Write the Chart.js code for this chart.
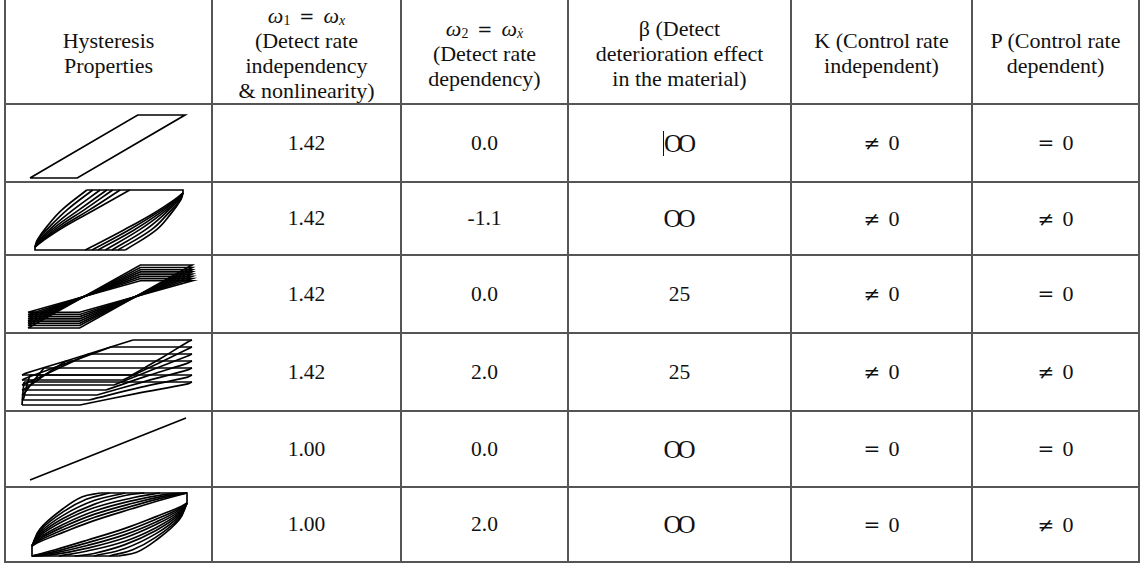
<!DOCTYPE html>
<html>
<head>
<meta charset="utf-8">
<script src="https://cdn.jsdelivr.net/npm/chart.js@4.4.1/dist/chart.umd.min.js"></script>
<style>
  html, body { margin: 0; padding: 0; background: #fff; }
  #sheet { position: relative; width: 1140px; height: 566px; overflow: hidden;
           font-family: "Liberation Serif", "Times New Roman", serif; color: #111; }
  .cell { position: absolute; display: flex; flex-direction: column; align-items: center;
          justify-content: center; text-align: center; box-sizing: border-box; white-space: nowrap; }
  .head { font-size: 22px; line-height: 25px; padding-top: 2px; }
  .head > div { height: 25px; }
  .body { font-size: 21.5px; }
  .rule { position: absolute; background: #555; }
  .math { font-size: 22px; }
  .math i { font-style: italic; }
  .math sub { font-size: 63%; position: relative; top: 2px; vertical-align: baseline; line-height: 0; }
  .op { margin: 0 9px; font-family: "DejaVu Serif", serif; font-size: 18px; }
  .inf { display: inline-block; line-height: 25px; letter-spacing: -4px; font-size: 25px; padding-right: 4px; }
  .caret { border-left: 1.5px solid #111; }
  .rel { font-size: 22px; }
  .rel b { font-weight: normal; font-family: "DejaVu Serif", serif; font-size: 20px; margin-right: 8px; }
  canvas { position: absolute; }
</style>
</head>
<body>
<div id="sheet"></div>
<script>
// ---- table text ----
const headerLines = [
  ["Hysteresis", "Properties"],
  ['<span class="math"><i>ω</i><sub>1</sub><span class="op">=</span><i>ω<sub>x</sub></i></span>', "(Detect rate", "independency", "&amp; nonlinearity)"],
  ['<span class="math"><i>ω</i><sub>2</sub><span class="op">=</span><i>ω<sub>x&#775;</sub></i></span>', "(Detect rate", "dependency)"],
  ["β (Detect", "deterioration effect", "in the material)"],
  ["K (Control rate", "independent)"],
  ["P (Control rate", "dependent)"]
];
const omega1Values = ["1.42", "1.42", "1.42", "1.42", "1.00", "1.00"];
const omega2Values = ["0.0", "-1.1", "0.0", "2.0", "0.0", "2.0"];
const betaValues   = ["∞", "∞", "25", "25", "∞", "∞"];
const kValues      = ["≠ 0", "≠ 0", "≠ 0", "≠ 0", "= 0", "= 0"];
const pValues      = ["= 0", "≠ 0", "= 0", "≠ 0", "= 0", "≠ 0"];

// ---- hysteresis loops (normalised displacement x, force y) ----
// row 1: rate-independent elasto-plastic loop
const loopBilinear = [[-1, -1], [-0.39, -1], [1, 1], [0.39, 1], [-1, -1]];

// row 2: rate-dependent loops, flat branches and curved branches
const rateFlatBottom = [[-1, -0.9], [-1, -1], [0.22, -1]];
const rateFlatTop    = [[1, 0.9], [1, 1], [-0.30, 1]];
const rateUpperCurves = [
  [[-0.30, 1], [-0.64, 0.33], [-0.84, -0.22], [-0.97, -0.67], [-1, -0.9]],
  [[-0.22, 1], [-0.57, 0.33], [-0.80, -0.22], [-0.96, -0.67], [-1, -0.9]],
  [[-0.12, 1], [-0.49, 0.33], [-0.76, -0.22], [-0.94, -0.67], [-1, -0.9]],
  [[-0.03, 1], [-0.41, 0.33], [-0.72, -0.22], [-0.93, -0.67], [-1, -0.9]],
  [[0.05, 1],  [-0.34, 0.33], [-0.68, -0.22], [-0.91, -0.67], [-1, -0.9]],
  [[0.15, 1],  [-0.27, 0.33], [-0.64, -0.22], [-0.90, -0.67], [-1, -0.9]],
  [[0.28, 1],  [-0.20, 0.33], [-0.60, -0.22], [-0.88, -0.67], [-1, -0.9]]
];
const rateLowerCurves = [
  [[0.22, -1],  [0.64, -0.33], [0.84, 0.22], [0.97, 0.67], [1, 0.9]],
  [[0.12, -1],  [0.57, -0.33], [0.80, 0.22], [0.96, 0.67], [1, 0.9]],
  [[0.04, -1],  [0.49, -0.33], [0.76, 0.22], [0.94, 0.67], [1, 0.9]],
  [[-0.05, -1], [0.41, -0.33], [0.72, 0.22], [0.93, 0.67], [1, 0.9]],
  [[-0.15, -1], [0.34, -0.33], [0.68, 0.22], [0.91, 0.67], [1, 0.9]],
  [[-0.23, -1], [0.27, -0.33], [0.64, 0.22], [0.90, 0.67], [1, 0.9]],
  [[-0.32, -1], [0.20, -0.33], [0.60, 0.22], [0.88, 0.67], [1, 0.9]]
];

// row 3: deteriorating bilinear cycles (one closed loop per cycle)
const degradeLoops = [
  [[-1, -1.00], [-0.37, -1.00], [1, 1.00], [0.37, 1.00], [-1, -1.00]],
  [[-1, -0.92], [-0.37, -0.92], [1, 0.92], [0.37, 0.92], [-1, -0.92]],
  [[-1, -0.85], [-0.37, -0.85], [1, 0.85], [0.37, 0.85], [-1, -0.85]],
  [[-1, -0.78], [-0.37, -0.78], [1, 0.78], [0.37, 0.78], [-1, -0.78]],
  [[-1, -0.71], [-0.37, -0.71], [1, 0.71], [0.37, 0.71], [-1, -0.71]],
  [[-1, -0.64], [-0.37, -0.64], [1, 0.64], [0.37, 0.64], [-1, -0.64]],
  [[-1, -0.57], [-0.37, -0.57], [1, 0.57], [0.37, 0.57], [-1, -0.57]],
  [[-1, -0.50], [-0.37, -0.50], [1, 0.50], [0.37, 0.50], [-1, -0.50]]
];

// row 4: deteriorating rate-dependent cycles drifting downward
const drTopLines = [
  [[0.306, 1], [1, 1]], [[0.047, 0.785], [1, 0.785]], [[-0.212, 0.569], [1, 0.569]],
  [[-0.482, 0.354], [1, 0.354]], [[-0.741, 0.138], [1, 0.138]],
  [[-0.906, -0.077], [1, -0.077]], [[-0.976, -0.292], [1, -0.292]]
];
const drBottomLines = [
  [[-1, -0.077], [0.294, -0.077]], [[-1, -0.231], [0.188, -0.231]], [[-1, -0.385], [0.082, -0.385]],
  [[-1, -0.538], [-0.012, -0.538]], [[-1, -0.692], [-0.118, -0.692]],
  [[-1, -0.846], [-0.212, -0.846]], [[-1, -1], [-0.318, -1]]
];
const drLoadingCurves = [
  [[0.294, -0.077], [0.65, 0.46], [0.95, 0.94], [1, 1]],
  [[0.188, -0.231], [0.6, 0.28], [0.95, 0.72], [1, 0.785]],
  [[0.082, -0.385], [0.54, 0.09], [0.95, 0.51], [1, 0.569]],
  [[-0.012, -0.538], [0.49, -0.09], [0.95, 0.29], [1, 0.354]],
  [[-0.118, -0.692], [0.44, -0.28], [0.95, 0.08], [1, 0.138]],
  [[-0.212, -0.846], [0.39, -0.46], [0.95, -0.14], [1, -0.077]],
  [[-0.318, -1], [0.34, -0.65], [0.95, -0.35], [1, -0.292]]
];
const drUnloadingCurves = [
  [[0.306, 1], [-0.35, 0.46], [-0.95, -0.02], [-1, -0.077]],
  [[0.047, 0.785], [-0.48, 0.28], [-0.95, -0.17], [-1, -0.231]],
  [[-0.212, 0.569], [-0.6, 0.09], [-0.95, -0.33], [-1, -0.385]],
  [[-0.482, 0.354], [-0.74, -0.09], [-0.95, -0.48], [-1, -0.538]],
  [[-0.741, 0.138], [-0.87, -0.28], [-0.97, -0.63], [-1, -0.692]],
  [[-0.906, -0.077], [-0.95, -0.46], [-0.98, -0.79], [-1, -0.846]],
  [[-0.976, -0.292], [-0.99, -0.65], [-1, -1]]
];

// row 5: linear elastic response
const linearPath = [[-1, -1], [1, 1]];

// row 6: linear + viscous loops
const viscousFlat = [
  [[-1, -0.68], [-1, -1], [0.12, -1]],
  [[1, 0.68], [1, 1], [-0.12, 1]]
];
const viscousUpper = [
  [[-1, -0.68], [-0.9, -0.15], [-0.6, 0.5], [-0.35, 0.88], [-0.12, 1]],
  [[-1, -0.68], [-0.9, -0.2], [-0.6, 0.4], [-0.3, 0.8], [0.0, 1]],
  [[-1, -0.68], [-0.9, -0.26], [-0.6, 0.29], [-0.2, 0.76], [0.2, 1]],
  [[-1, -0.68], [-0.9, -0.31], [-0.6, 0.19], [-0.2, 0.64], [0.2, 0.92], [0.45, 1]],
  [[-1, -0.68], [-0.9, -0.36], [-0.6, 0.1], [-0.2, 0.53], [0.3, 0.85], [0.65, 1]],
  [[-1, -0.68], [-0.9, -0.41], [-0.6, 0.0], [-0.2, 0.42], [0.3, 0.76], [0.7, 0.95], [1, 1]],
  [[-1, -0.68], [-0.9, -0.456], [-0.6, -0.08], [-0.2, 0.32], [0.3, 0.675], [0.7, 0.9], [1, 1]],
  [[-1, -0.68], [-0.9, -0.5], [-0.6, -0.166], [-0.2, 0.222], [0.3, 0.59], [0.7, 0.853], [1, 1]],
  [[-1, -0.68], [-0.9, -0.546], [-0.6, -0.25], [-0.2, 0.122], [0.3, 0.506], [0.7, 0.8], [1, 1]]
];
const viscousLower = [
  [[1, 0.68], [0.9, 0.15], [0.6, -0.5], [0.35, -0.88], [0.12, -1]],
  [[1, 0.68], [0.9, 0.2], [0.6, -0.4], [0.3, -0.8], [0.0, -1]],
  [[1, 0.68], [0.9, 0.26], [0.6, -0.29], [0.2, -0.76], [-0.2, -1]],
  [[1, 0.68], [0.9, 0.31], [0.6, -0.19], [0.2, -0.64], [-0.2, -0.92], [-0.45, -1]],
  [[1, 0.68], [0.9, 0.36], [0.6, -0.1], [0.2, -0.53], [-0.3, -0.85], [-0.65, -1]],
  [[1, 0.68], [0.9, 0.41], [0.6, 0.0], [0.2, -0.42], [-0.3, -0.76], [-0.7, -0.95], [-1, -1]],
  [[1, 0.68], [0.9, 0.456], [0.6, 0.08], [0.2, -0.32], [-0.3, -0.675], [-0.7, -0.9], [-1, -1]],
  [[1, 0.68], [0.9, 0.5], [0.6, 0.166], [0.2, -0.222], [-0.3, -0.59], [-0.7, -0.853], [-1, -1]],
  [[1, 0.68], [0.9, 0.546], [0.6, 0.25], [0.2, -0.122], [-0.3, -0.506], [-0.7, -0.8], [-1, -1]]
];

// ---- layout ----
const colEdges = [5, 212, 401, 568, 791, 972, 1139];
const rowEdges = [0, 104, 182, 255, 333, 411, 487, 562];
// plot extents inside each first-column cell: left, right, top, bottom (px)
const plotBoxes = [
  [25, 180, 11, 74], [30, 178, 8, 68], [23, 187, 10, 73],
  [17, 187, 7, 72], [25, 181, 7, 69], [27, 182, 6, 69]
];

const sheet = document.getElementById('sheet');

function addCell(c, r, html, cls) {
  const d = document.createElement('div');
  d.className = 'cell ' + cls;
  d.style.left = colEdges[c] + 'px';
  d.style.width = (colEdges[c + 1] - colEdges[c]) + 'px';
  d.style.top = rowEdges[r] + 'px';
  d.style.height = (rowEdges[r + 1] - rowEdges[r]) + 'px';
  d.innerHTML = html;
  sheet.appendChild(d);
  return d;
}

headerLines.forEach((lines, c) => addCell(c, 0, lines.map(l => '<div>' + l + '</div>').join(''), 'head'));

function infinity(first) {
  return '<span class="inf' + (first ? ' caret' : '') + '">OO</span>';
}
function relation(text) {
  const [op, rhs] = text.split(' ');
  return '<span class="rel"><b>' + op + '</b>' + rhs + '</span>';
}
for (let r = 0; r < 6; r++) {
  addCell(1, r + 1, omega1Values[r], 'body');
  addCell(2, r + 1, omega2Values[r], 'body');
  addCell(3, r + 1, betaValues[r] === '∞' ? infinity(r === 0) : betaValues[r], 'body');
  addCell(4, r + 1, relation(kValues[r]), 'body');
  addCell(5, r + 1, relation(pValues[r]), 'body');
}

// grid rules
colEdges.forEach(x => {
  const d = document.createElement('div');
  d.className = 'rule';
  d.style.left = (x - 1) + 'px'; d.style.width = '2px';
  d.style.top = '0px'; d.style.height = (rowEdges[7] + 1) + 'px';
  sheet.appendChild(d);
});
rowEdges.slice(1).forEach(y => {
  const d = document.createElement('div');
  d.className = 'rule';
  d.style.top = (y - 1) + 'px'; d.style.height = '2px';
  d.style.left = (colEdges[0] - 1) + 'px'; d.style.width = (colEdges[6] - colEdges[0] + 2) + 'px';
  sheet.appendChild(d);
});

// ---- strokes for each plot ----
const straight = p => ({ pts: p, smooth: false });
const curved = p => ({ pts: p, smooth: true });

const plotStrokes = [
  [straight(loopBilinear)],
  [straight(rateFlatBottom), straight(rateFlatTop)]
    .concat(rateUpperCurves.map(curved), rateLowerCurves.map(curved)),
  degradeLoops.map(straight),
  drTopLines.map(straight).concat(drBottomLines.map(straight),
    drLoadingCurves.map(curved), drUnloadingCurves.map(curved)),
  [straight(linearPath)],
  viscousFlat.map(straight).concat(viscousUpper.map(curved), viscousLower.map(curved))
];

// ---- draw each plot with Chart.js ----
plotStrokes.forEach((strokes, r) => {
  const W = colEdges[1] - colEdges[0] - 2;
  const H = rowEdges[r + 2] - rowEdges[r + 1] - 2;
  const cv = document.createElement('canvas');
  cv.width = W; cv.height = H;
  cv.style.left = (colEdges[0] + 1) + 'px';
  cv.style.top = (rowEdges[r + 1] + 1) + 'px';
  cv.style.width = W + 'px'; cv.style.height = H + 'px';
  sheet.appendChild(cv);

  const [L, R, T, B] = plotBoxes[r].map(v => v - 1);
  const xr = 2 * W / (R - L), yr = 2 * H / (B - T);
  const xMin = -1 - L * xr / W, yMax = 1 + T * yr / H;

  new Chart(cv, {
    type: 'scatter',
    data: {
      datasets: strokes.map(s => ({
        data: s.pts.map(([x, y]) => ({ x, y })),
        showLine: true,
        borderColor: '#000',
        borderWidth: 1.7,
        pointRadius: 0,
        tension: s.smooth ? 0.4 : 0,
        clip: false
      }))
    },
    options: {
      responsive: false,
      animation: false,
      events: [],
      layout: { padding: 0 },
      plugins: { legend: { display: false }, tooltip: { enabled: false } },
      scales: {
        x: { type: 'linear', display: false, min: xMin, max: xMin + xr },
        y: { type: 'linear', display: false, min: yMax - yr, max: yMax }
      }
    }
  });
});
</script>
</body>
</html>
